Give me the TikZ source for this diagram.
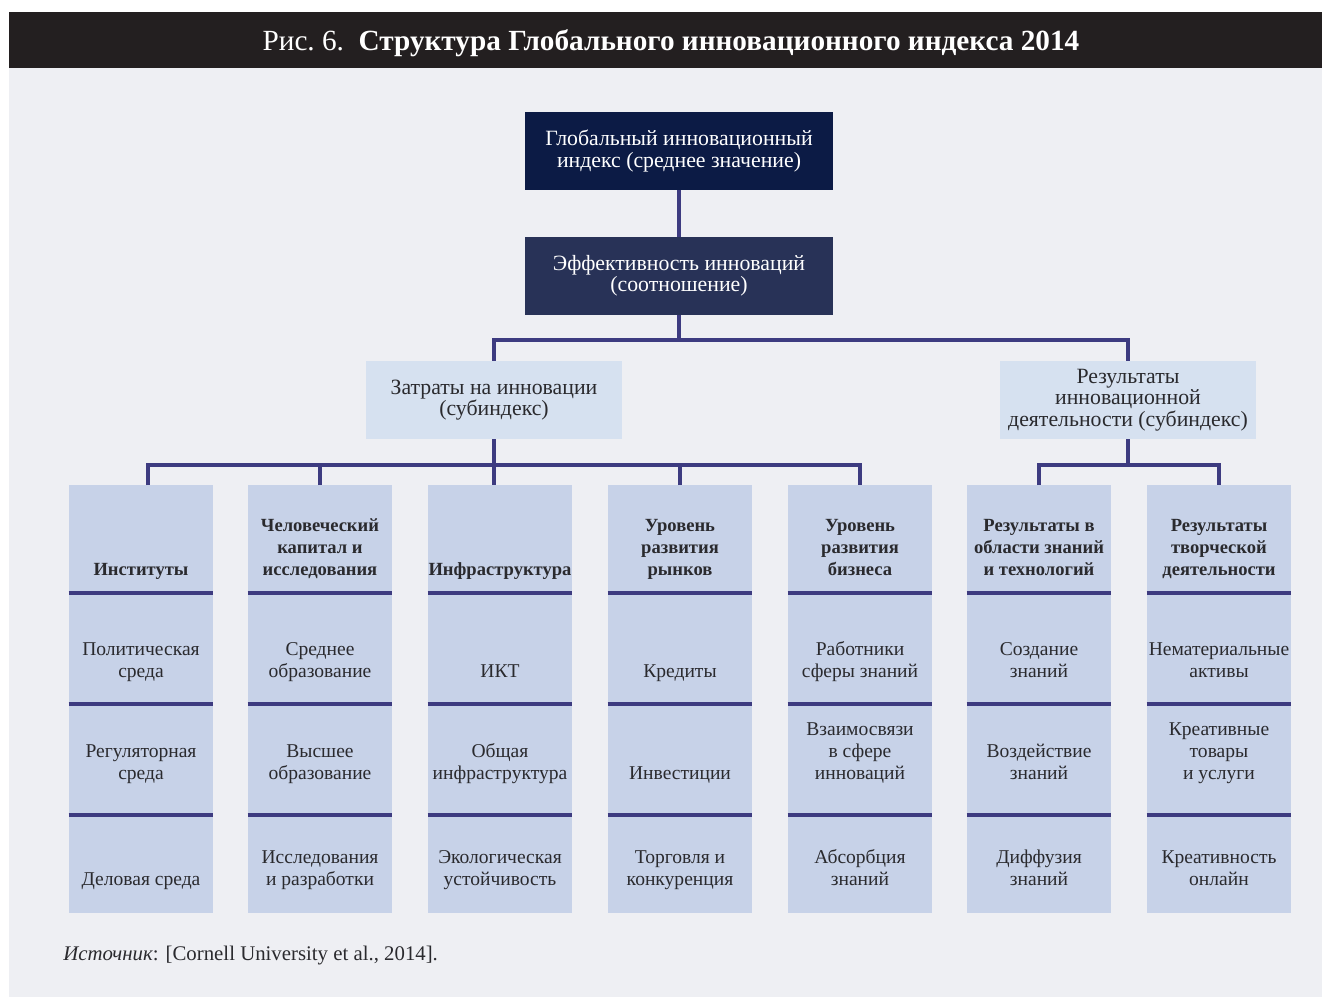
\documentclass[tikz,border=0pt]{standalone}
\usepackage{fontspec}
\setmainfont{Liberation Serif}
\usepackage{tikz}
\usetikzlibrary{positioning,calc}

\definecolor{barblack}{HTML}{231F20}
\definecolor{panelgray}{HTML}{EEEFF3}
\definecolor{navytop}{HTML}{0C1B45}
\definecolor{navymid}{HTML}{283257}
\definecolor{subblue}{HTML}{D6E1F0}
\definecolor{colblue}{HTML}{C7D2E8}
\definecolor{linkblue}{HTML}{3D3B80}
\definecolor{inktext}{HTML}{2A2A2E}

\begin{document}
\begin{tikzpicture}[x=0.025cm, y=-0.025cm,
  mainbox/.style = {rectangle, fill=navytop, text=white, minimum width=7.7cm,
                    minimum height=1.95cm, align=center, inner sep=0pt,
                    font=\fontsize{15.5}{15.2}\selectfont},
  effbox/.style  = {mainbox, fill=navymid},
  subbox/.style  = {rectangle, fill=subblue, text=inktext, minimum width=6.4cm,
                    minimum height=1.95cm, align=center, inner sep=0pt,
                    font=\fontsize{15.5}{15.2}\selectfont},
  colbox/.style  = {rectangle, fill=colblue, minimum width=3.6cm,
                    minimum height=10.7cm, anchor=north, inner sep=0pt},
  head/.style    = {anchor=south, inner sep=0pt, align=center, text=inktext,
                    font=\bfseries\fontsize{13.2}{15.5}\selectfont,
                    execute at end node=\strut},
  cell/.style    = {anchor=south, inner sep=0pt, align=center, text=inktext,
                    font=\fontsize{13.9}{15.5}\selectfont,
                    execute at end node=\strut},
  link/.style    = {draw=linkblue, line width=2.5pt, line join=miter},
  sep/.style     = {draw=linkblue, line width=2.5pt},
]
\useasboundingbox (0,0) rectangle (1322,997);
% background and title bar
\fill[white] (0,0) rectangle (1322,997);
\fill[panelgray] (9,68) rectangle (1322,997);
\fill[barblack] (9,12) rectangle (1322,68);
\node[text=white, font=\fontsize{20.8}{24}\selectfont] (title) at (671,43)
  {Рис.~6.\enspace\textbf{Структура Глобального инновационного индекса 2014}};

% upper levels
\node[mainbox] (gii)  at (679,151) {Глобальный инновационный\\индекс (среднее значение)};
\node[effbox]  (eff)  at (679,276) {Эффективность инноваций\\(соотношение)};
\node[subbox]  (inp)  at (494,400) {Затраты на инновации\\(субиндекс)};
\node[subbox]  (outp) at (1128,400) {Результаты\\инновационной\\деятельности (субиндекс)};

% pillar columns
\node[colbox] (c1) at (141,485) {};
\node[colbox] (c2) at (320,485) {};
\node[colbox] (c3) at (500,485) {};
\node[colbox] (c4) at (680,485) {};
\node[colbox] (c5) at (860,485) {};
\node[colbox] (c6) at (1039,485) {};
\node[colbox] (c7) at (1219,485) {};
\foreach \c in {c1,c2,c3,c4,c5,c6,c7}
  \foreach \y in {593,704,815}
    \draw[sep] (\c.west |- 0,\y) -- (\c.east |- 0,\y);

% pillar headers
\node[head] (h1) at (141,582) {Институты};
\node[head] (h2) at (320,582) {Человеческий\\капитал и\\исследования};
\node[head] (h3) at (500,582) {Инфраструктура};
\node[head] (h4) at (680,582) {Уровень\\развития\\рынков};
\node[head] (h5) at (860,582) {Уровень\\развития\\бизнеса};
\node[head] (h6) at (1039,582) {Результаты в\\области знаний\\и технологий};
\node[head] (h7) at (1219,582) {Результаты\\творческой\\деятельности};

% sub-pillars, first row
\node[cell] (p11) at (141,684) {Политическая\\среда};
\node[cell] (p21) at (320,684) {Среднее\\образование};
\node[cell] (p31) at (500,684) {ИКТ};
\node[cell] (p41) at (680,684) {Кредиты};
\node[cell] (p51) at (860,684) {Работники\\сферы знаний};
\node[cell] (p61) at (1039,684) {Создание\\знаний};
\node[cell] (p71) at (1219,684) {Нематериальные\\активы};
% second row
\node[cell] (p12) at (141,786) {Регуляторная\\среда};
\node[cell] (p22) at (320,786) {Высшее\\образование};
\node[cell] (p32) at (500,786) {Общая\\инфраструктура};
\node[cell] (p42) at (680,786) {Инвестиции};
\node[cell] (p52) at (860,786) {Взаимосвязи\\в сфере\\инноваций};
\node[cell] (p62) at (1039,786) {Воздействие\\знаний};
\node[cell] (p72) at (1219,786) {Креативные\\товары\\и услуги};
% third row
\node[cell] (p13) at (141,892) {Деловая среда};
\node[cell] (p23) at (320,892) {Исследования\\и разработки};
\node[cell] (p33) at (500,892) {Экологическая\\устойчивость};
\node[cell] (p43) at (680,892) {Торговля и\\конкуренция};
\node[cell] (p53) at (860,892) {Абсорбция\\знаний};
\node[cell] (p63) at (1039,892) {Диффузия\\знаний};
\node[cell] (p73) at (1219,892) {Креативность\\онлайн};

% connectors
\coordinate (busT) at (0,340);
\coordinate (busL) at (0,465);
\coordinate (busR) at (0,465);
\draw[link] (gii) -- (eff);
\draw[link] (eff.south) -- (eff.south |- busT);
\draw[link] (inp.north) -- (inp.north |- busT) -- (outp.north |- busT) -- (outp.north);
\draw[link] (inp.south) -- (inp.south |- c3.north);
\draw[link] ([xshift=5]c1.north) -- ([xshift=5]c1.north |- busL) -- (c5.north |- busL) -- (c5.north);
\draw[link] (c2.north) -- (c2.north |- busL);
\draw[link] (c4.north) -- (c4.north |- busL);
\draw[link] (outp.south) -- (outp.south |- busR);
\draw[link] (c6.north) -- (c6.north |- busR) -- (c7.north |- busR) -- (c7.north);

% source
\node[anchor=base west, inner sep=0pt, text=inktext, font=\fontsize{14.8}{17}\selectfont] (src) at (63,960)
  {\textit{Источник}: [Cornell University et al., 2014].};
\end{tikzpicture}
\end{document}
